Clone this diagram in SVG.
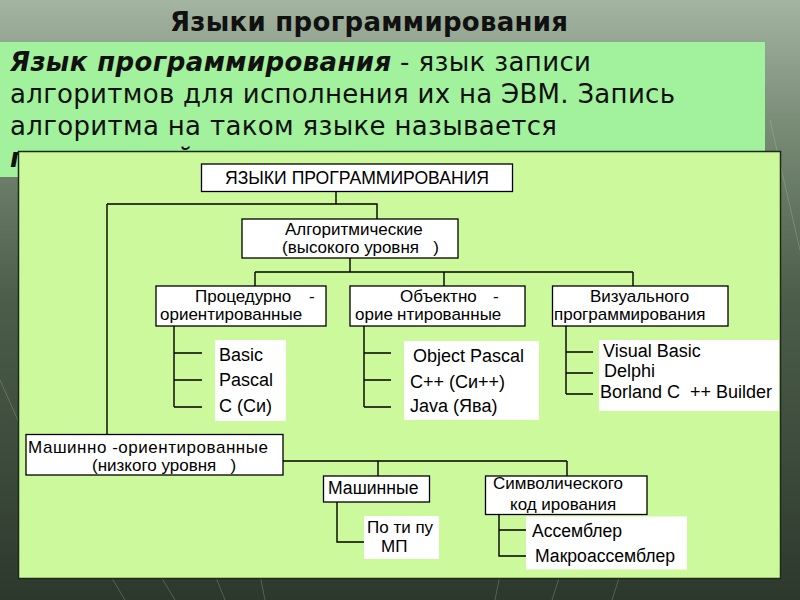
<svg xmlns="http://www.w3.org/2000/svg" width="800" height="600" viewBox="0 0 800 600">
<defs>
<linearGradient id="bg" x1="0" y1="0" x2="0" y2="1">
<stop offset="0" stop-color="#a3b4a0"/>
<stop offset="0.22" stop-color="#778a74"/>
<stop offset="0.5" stop-color="#4c5d4a"/>
<stop offset="0.8" stop-color="#3a4839"/>
<stop offset="1" stop-color="#2c382c"/>
</linearGradient>
<style>
.box{fill:#fff;stroke:#000;stroke-width:1.3}
.lst{fill:#fff}
.t{font-family:"Liberation Sans",Arial,sans-serif;font-size:17px;fill:#000}
.s{font-size:17.6px}
.li{font-size:18px}
.c{text-anchor:middle}
.conn path{stroke:#000;stroke-width:1.4;fill:none}
.big{font-family:"DejaVu Sans","Noto Sans",sans-serif;font-size:26px;fill:#111}
.tex{stroke:#c8d6c4;stroke-width:1;opacity:0.25;fill:none}
</style>
</defs>
<rect width="800" height="600" fill="url(#bg)"/>
<g class="tex">
<path d="M0 380 L40 470"/><path d="M110 575 L125 600"/><path d="M160 575 L175 600"/><path d="M215 575 L225 600"/><path d="M260 575 L265 600"/><path d="M500 575 L495 600"/><path d="M560 575 L552 600"/><path d="M620 575 L612 600"/><path d="M770 120 L800 250"/>
</g>
<text x="170" y="31" class="big" font-weight="bold" textLength="398">Языки программирования</text>
<rect x="0" y="42" width="765" height="135" fill="#a2f19c"/>
<g class="big">
<text x="10" y="71" textLength="581"><tspan font-weight="bold" font-style="italic">Язык программирования</tspan> - язык записи</text>
<text x="10" y="103" textLength="665">алгоритмов для исполнения их на ЭВМ. Запись</text>
<text x="10" y="135" textLength="547">алгоритма на таком языке называется</text>
<text x="10" y="167" font-weight="bold" font-style="italic">программой</text>
</g>
<rect x="18.5" y="151.5" width="762" height="427" fill="#ccf99b" stroke="#1c2a1c" stroke-width="1.5"/>
<g class="conn">
<path d="M336 191 V204 M107 204 H377 V219 M107 204 V434"/>
<path d="M350 258 V272 M255 272 H633 M255 272 V286 M444 272 V286 M633 272 V286"/>
<path d="M174 326 V407 M174 353 H202 M174 380 H202 M174 407 H202"/>
<path d="M364 326 V407 M364 353 H391 M364 380 H391 M364 407 H391"/>
<path d="M566 326 V394 M566 352 H593 M566 373 H593 M566 394 H593"/>
<path d="M283 461 H567 M378 461 V476 M567 461 V476"/>
<path d="M337 502 V542 H365"/>
<path d="M499 514 V556 H527 M499 530 H527"/>
</g>
<g id="root">
<rect class="box" x="201.5" y="164" width="311" height="27.5"/>
<text class="t s c" x="357" y="184">ЯЗЫКИ ПРОГРАММИРОВАНИЯ</text>
</g>
<g id="algo">
<rect class="box" x="242" y="219" width="216" height="39"/>
<text class="t" x="285" y="235">Алгоритмические</text>
<text class="t" x="282" y="253" xml:space="preserve">(высокого уровня   )</text>
</g>
<g id="proc">
<rect class="box" x="156" y="286" width="170" height="40"/>
<text class="t" x="195" y="302">Процедурно<tspan x="309">-</tspan></text>
<text class="t" x="160" y="320">ориентированные</text>
</g>
<g id="obj">
<rect class="box" x="350" y="286" width="175" height="40"/>
<text class="t" x="400" y="302">Объектно<tspan x="493">-</tspan></text>
<text class="t" x="355" y="320">орие<tspan x="397">нтированные</tspan></text>
</g>
<g id="vis">
<rect class="box" x="552.5" y="286" width="175.5" height="40"/>
<text class="t" x="590" y="302">Визуального</text>
<text class="t" x="554" y="320">программирования</text>
</g>
<g id="proc-list">
<rect class="lst" x="215" y="340" width="71" height="81"/>
<text class="t li" x="219" y="361">Basic</text>
<text class="t li" x="219" y="386">Pascal</text>
<text class="t li" x="219" y="412">C (Си)</text>
</g>
<g id="obj-list">
<rect class="lst" x="404" y="341" width="135" height="79"/>
<text class="t li" x="413" y="362">Object Pascal</text>
<text class="t li" x="410" y="388">C++ (Си++)</text>
<text class="t li" x="410" y="412">Java (Ява)</text>
</g>
<g id="vis-list">
<rect class="lst" x="599" y="340" width="180" height="71"/>
<text class="t li" x="603" y="357">Visual Basic</text>
<text class="t li" x="604" y="377">Delphi</text>
<text class="t li" x="600" y="398" xml:space="preserve">Borland C  ++ Builder</text>
</g>
<g id="machine-oriented">
<rect class="box" x="26" y="434.5" width="257" height="40.5"/>
<text class="t" x="28" y="453" textLength="240">Машинно -ориентированные</text>
<text class="t" x="92" y="471" xml:space="preserve">(низкого уровня   )</text>
</g>
<g id="machine">
<rect class="box" x="323.5" y="476" width="106" height="26"/>
<text class="t s" x="328" y="494">Машинные</text>
</g>
<g id="mp">
<rect class="lst" x="364" y="516" width="75" height="43"/>
<text class="t" x="367" y="533">По ти пу</text>
<text class="t" x="381" y="552">МП</text>
</g>
<g id="symbolic">
<rect class="box" x="485.5" y="476" width="161.5" height="38.5"/>
<text class="t" x="493" y="489">Символического</text>
<text class="t" x="510" y="510">код ирования</text>
</g>
<g id="asm-list">
<rect class="lst" x="526" y="516.5" width="161" height="53"/>
<text class="t s" x="532" y="537">Ассемблер</text>
<text class="t s" x="535" y="562">Макроассемблер</text>
</g>
</svg>
